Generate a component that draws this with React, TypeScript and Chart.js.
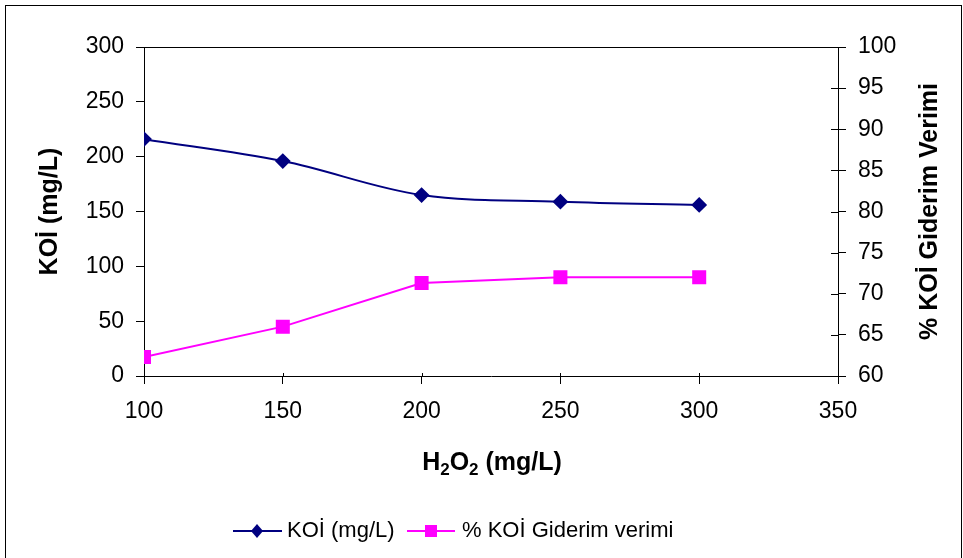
import React, { useEffect, useRef } from "react";
import { Chart, registerables } from "chart.js";

Chart.register(...registerables);

const h2o2 = [100, 150, 200, 250, 300];
const koi = [216, 196, 165, 159, 156];
const giderim = [62.3, 66.0, 71.3, 72.0, 72.0];

const koiLabel = "KOİ (mg/L)";
const giderimLabel = "% KOİ Giderim verimi";
const leftTitle = "KOİ (mg/L)";
const rightTitle = "% KOİ Giderim Verimi";

const FONT = "'Liberation Sans', Arial, sans-serif";

const overlay = {
  id: "overlay",
  afterDraw(chart: any) {
    const ctx = chart.ctx;
    const ca = chart.chartArea;
    const yR = chart.scales.y1;
    ctx.save();
    ctx.strokeStyle = "#000";
    ctx.lineWidth = 1;
    ctx.strokeRect(5.5, 5.5, 956, 600);
    ctx.beginPath();
    ctx.moveTo(ca.left, ca.top + 0.5);
    ctx.lineTo(ca.right, ca.top + 0.5);
    ctx.stroke();
    yR.ticks.forEach((t: any) => {
      const y = Math.round(yR.getPixelForValue(t.value)) + 0.5;
      ctx.beginPath();
      ctx.moveTo(ca.right - 7, y);
      ctx.lineTo(ca.right, y);
      ctx.stroke();
    });
    const xs = chart.scales.x;
    xs.ticks.forEach((t: any) => {
      const x = Math.round(xs.getPixelForValue(t.value)) + 0.5;
      ctx.beginPath();
      ctx.moveTo(x, ca.bottom - 3);
      ctx.lineTo(x, ca.bottom);
      ctx.stroke();
    });
    ctx.fillStyle = "#000";
    ctx.textAlign = "center";
    ctx.textBaseline = "middle";
    ctx.font = `bold 25px ${FONT}`;
    const midY = (ca.top + ca.bottom) / 2;
    ctx.save();
    ctx.translate(50, midY);
    ctx.rotate(-Math.PI / 2);
    ctx.fillText(leftTitle, 0, 0);
    ctx.restore();
    ctx.save();
    ctx.translate(930, midY);
    ctx.rotate(-Math.PI / 2);
    ctx.fillText(rightTitle, 0, 0);
    ctx.restore();
    const cx = 492;
    const cy = 463;
    ctx.textAlign = "left";
    const big = `bold 25px ${FONT}`;
    const small = `bold 17px ${FONT}`;
    const parts: [string, boolean][] = [["H", false], ["2", true], ["O", false], ["2", true], [" (mg/L)", false]];
    let total = 0;
    parts.forEach(([s, sub]) => {
      ctx.font = sub ? small : big;
      total += ctx.measureText(s).width;
    });
    let x = cx - total / 2;
    parts.forEach(([s, sub]) => {
      ctx.font = sub ? small : big;
      ctx.fillText(s, x, sub ? cy + 7 : cy);
      x += ctx.measureText(s).width;
    });
    const ly = 531;
    ctx.font = `22px ${FONT}`;
    ctx.lineWidth = 2;
    ctx.strokeStyle = "#000080";
    ctx.beginPath();
    ctx.moveTo(233, ly);
    ctx.lineTo(282, ly);
    ctx.stroke();
    ctx.fillStyle = "#000080";
    ctx.beginPath();
    ctx.moveTo(257, ly - 7);
    ctx.lineTo(263, ly);
    ctx.lineTo(257, ly + 7);
    ctx.lineTo(251, ly);
    ctx.closePath();
    ctx.fill();
    ctx.fillStyle = "#000";
    ctx.fillText(koiLabel, 287, ly);
    ctx.strokeStyle = "#FF00FF";
    ctx.beginPath();
    ctx.moveTo(407, ly);
    ctx.lineTo(455, ly);
    ctx.stroke();
    ctx.fillStyle = "#FF00FF";
    ctx.fillRect(425, ly - 6, 12, 12);
    ctx.fillStyle = "#000";
    ctx.fillText(giderimLabel, 462, ly);
    ctx.restore();
  },
};

export default function App() {
  const ref = useRef<HTMLCanvasElement>(null);
  useEffect(() => {
    document.body.style.margin = "0";
    const chart = new Chart(ref.current!, {
      type: "line",
      data: {
        datasets: [
          {
            label: koiLabel,
            data: h2o2.map((x, i) => ({ x, y: koi[i] })),
            borderColor: "#000080",
            backgroundColor: "#000080",
            borderWidth: 2,
            pointStyle: "rectRot",
            pointRadius: 6.5,
            tension: 0.35,
            yAxisID: "y",
          },
          {
            label: giderimLabel,
            data: h2o2.map((x, i) => ({ x, y: giderim[i] })),
            borderColor: "#FF00FF",
            backgroundColor: "#FF00FF",
            borderWidth: 2,
            pointStyle: "rect",
            pointRadius: 8.5,
            tension: 0,
            yAxisID: "y1",
          },
        ],
      },
      options: {
        responsive: false,
        animation: false,
        layout: { padding: { left: 0, right: 0, top: 47, bottom: 122 } },
        plugins: { legend: { display: false }, tooltip: { enabled: false } },
        scales: {
          x: {
            type: "linear",
            min: 100,
            max: 350,
            ticks: { stepSize: 50, color: "#000", font: { family: FONT, size: 23 }, padding: 14, maxRotation: 0 },
            grid: { drawOnChartArea: false, drawTicks: true, tickLength: 8, color: "#000" },
            border: { display: true, color: "#000", width: 1 },
            afterFit: (s: any) => { s.height = 60; },
          },
          y: {
            position: "left",
            min: 0,
            max: 300,
            ticks: { stepSize: 50, color: "#000", font: { family: FONT, size: 23 }, padding: 12 },
            grid: { drawOnChartArea: false, drawTicks: true, tickLength: 8, color: "#000" },
            border: { display: true, color: "#000", width: 1 },
            afterFit: (s: any) => { s.width = 144; },
          },
          y1: {
            position: "right",
            min: 60,
            max: 100,
            ticks: { stepSize: 5, color: "#000", font: { family: FONT, size: 23 }, padding: 12 },
            grid: { drawOnChartArea: false, drawTicks: true, tickLength: 8, color: "#000" },
            border: { display: true, color: "#000", width: 1 },
            afterFit: (s: any) => { s.width = 125; },
          },
        },
      },
      plugins: [overlay],
    });
    return () => chart.destroy();
  }, []);
  return <canvas ref={ref} width={963} height={558} style={{ display: "block" }} />;
}
